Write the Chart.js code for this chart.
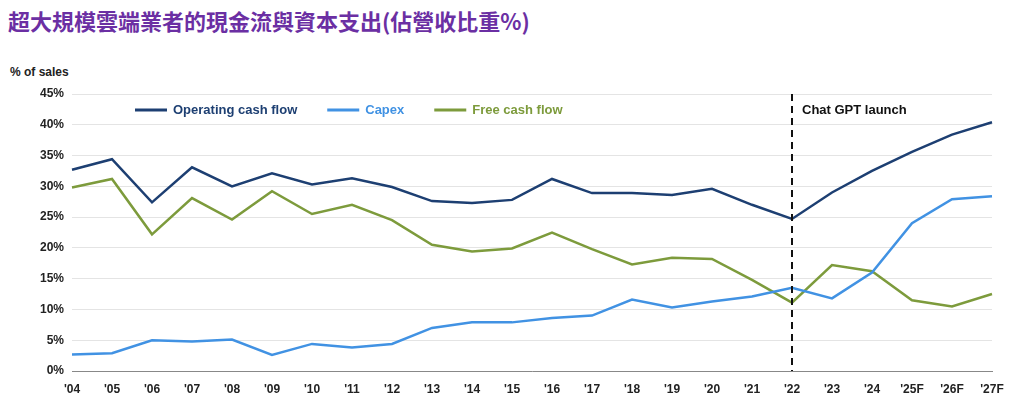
<!DOCTYPE html><html><head><meta charset="utf-8">
<script src="https://cdn.jsdelivr.net/npm/chart.js@4"></script>
<style>body{margin:0;width:1024px;height:402px;background:#fff;position:relative;overflow:hidden;font-family:"Noto Sans","Noto Sans CJK TC",sans-serif}
#t{position:absolute;left:8px;top:4px;font-size:22px;font-weight:bold;color:#6b2fa3;font-family:"Noto Sans CJK TC",sans-serif}
#u{position:absolute;left:10px;top:65px;font-size:12px;font-weight:bold;color:#222;font-family:Arial,"Liberation Sans",sans-serif}
#c{position:absolute;left:0;top:0}</style></head><body>
<div id="t">超大規模雲端業者的現金流與資本支出(佔營收比重%)</div>
<div id="u">% of sales</div>
<canvas id="c" width="1024" height="402"></canvas>
<script>
const categories=["'04","'05","'06","'07","'08","'09","'10","'11","'12","'13","'14","'15","'16","'17","'18","'19","'20","'21","'22","'23","'24","'25F","'26F","'27F"];
const operatingCashFlow=[32.7,34.4,27.4,33.1,30,32.1,30.3,31.3,29.9,27.6,27.3,27.8,31.2,28.9,28.9,28.6,29.6,27,24.7,29,32.5,35.6,38.4,40.4];
const capex=[2.7,2.9,5,4.8,5.1,2.6,4.4,3.8,4.4,7,7.9,7.9,8.6,9,11.6,10.3,11.3,12.1,13.5,11.8,16,24,27.9,28.4];
const freeCashFlow=[29.8,31.2,22.2,28.1,24.6,29.2,25.5,27,24.5,20.5,19.4,19.9,22.5,19.8,17.3,18.4,18.2,14.8,11.1,17.2,16.2,11.5,10.5,12.5];
const yTicks=[0,5,10,15,20,25,30,35,40,45];
const launchIndex=18;
const F='Arial, "Liberation Sans", sans-serif';
const extra={id:'extra',afterDatasetsDraw(ch){const c=ch.ctx,a=ch.chartArea,x=ch.scales.x.getPixelForValue(launchIndex);
c.save();c.strokeStyle='#111';c.lineWidth=2;c.setLineDash([7,5]);c.beginPath();c.moveTo(x,a.top);c.lineTo(x,a.bottom);c.stroke();c.setLineDash([]);
c.font='bold 13px '+F;c.fillStyle='#111';c.textBaseline='middle';c.fillText('Chat GPT launch',x+10,110);
let lx=135;ch.data.datasets.forEach(d=>{c.strokeStyle=d.borderColor;c.lineWidth=3;c.beginPath();c.moveTo(lx,110);c.lineTo(lx+32,110);c.stroke();c.fillStyle=d.borderColor;c.fillText(d.label,lx+38,110);lx+=38+c.measureText(d.label).width+30;});
c.restore();}};
new Chart(document.getElementById('c'),{type:'line',data:{labels:categories,datasets:[
{label:'Operating cash flow',data:operatingCashFlow,borderColor:'#1d3f72'},
{label:'Capex',data:capex,borderColor:'#4192e3'},
{label:'Free cash flow',data:freeCashFlow,borderColor:'#7d9b3c'}].map(d=>Object.assign(d,{borderWidth:2.5,pointRadius:0,tension:0,fill:false}))},
options:{responsive:false,animation:false,layout:{padding:{top:94,right:32,left:0,bottom:0}},
plugins:{legend:{display:false},tooltip:{enabled:false}},
scales:{x:{afterFit(s){s.height=31},offset:false,grid:{display:false},border:{color:'#888'},ticks:{color:'#222',font:{family:F,size:12,weight:'bold'},maxRotation:0,autoSkip:false}},
y:{min:0,max:45,afterFit(s){s.width=72},afterBuildTicks(s){s.ticks=yTicks.map(v=>({value:v}))},grid:{color:'#e4e4e4',drawTicks:false},border:{display:false},ticks:{padding:8,color:'#222',font:{family:F,size:12,weight:'bold'},callback:v=>v+'%'}}}},
plugins:[extra]});
</script></body></html>
